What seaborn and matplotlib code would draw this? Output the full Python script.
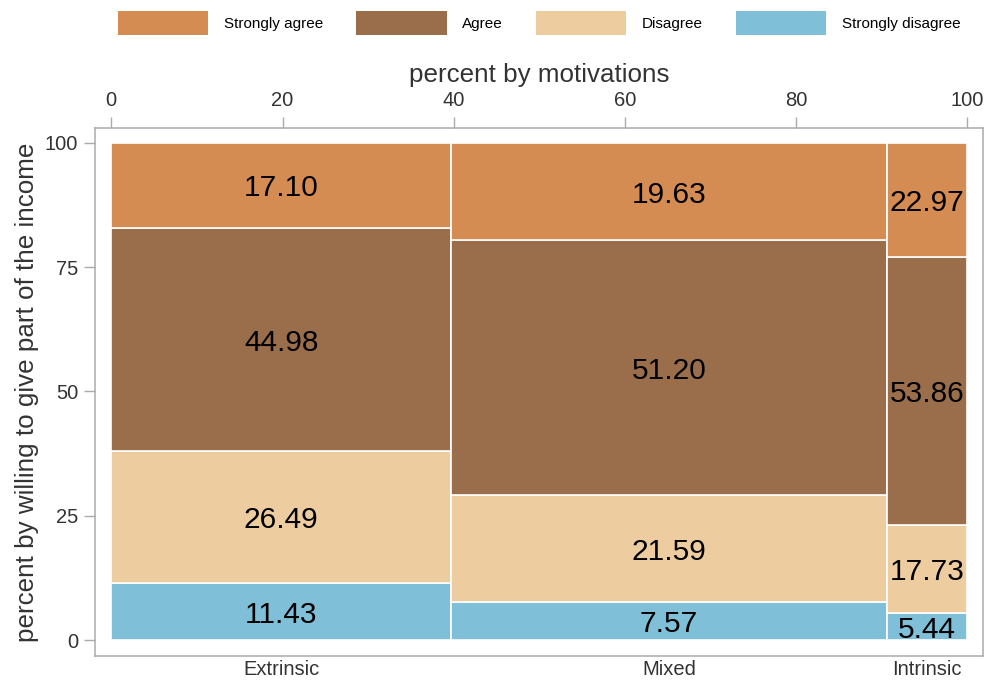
import numpy as np
import pandas as pd
import matplotlib
matplotlib.use("Agg")
import matplotlib.pyplot as plt
import seaborn as sns
from matplotlib.patches import Patch

categories = ["Extrinsic", "Mixed", "Intrinsic"]
col_widths = [39.68, 50.96, 9.36]  # percent by motivations
levels = ["Strongly disagree", "Disagree", "Agree", "Strongly agree"]  # stacked bottom -> top
strongly_disagree = [11.43, 7.57, 5.44]
disagree = [26.49, 21.59, 17.73]
agree = [44.98, 51.20, 53.86]
strongly_agree = [17.10, 19.63, 22.97]
legend_order = ["Strongly agree", "Agree", "Disagree", "Strongly disagree"]
top_ticks = [0, 20, 40, 60, 80, 100]
y_ticks = [0, 25, 50, 75, 100]

colors = {
    "Strongly agree": "#D58C52",
    "Agree": "#9A6E4A",
    "Disagree": "#EDCDA0",
    "Strongly disagree": "#7FBFD8",
}

shares = pd.DataFrame(
    {"Strongly disagree": strongly_disagree, "Disagree": disagree,
     "Agree": agree, "Strongly agree": strongly_agree},
    index=categories,
)
lefts = np.concatenate([[0], np.cumsum(col_widths)[:-1]])
mids = lefts + np.array(col_widths) / 2

sns.set_theme(style="white")
plt.rcParams["font.family"] = ["Liberation Sans", "DejaVu Sans"]
text_col = "#333333"
frame_col = "#ABABAB"

fig = plt.figure(figsize=(9.9, 6.83), dpi=100)
ax = fig.add_axes([0.0960, 0.0395, 0.8973, 0.7735])

bottoms = np.zeros(len(categories))
for lev in levels:
    vals = shares[lev].values
    ax.bar(lefts, vals, width=col_widths, bottom=bottoms, align="edge",
           color=colors[lev], edgecolor="white", linewidth=1.2)
    for x, b, v in zip(mids, bottoms, vals):
        ax.text(x, b + v / 2, f"{v:.2f}", ha="center", va="center_baseline",
                fontsize=21.5, color="black")
    bottoms += vals

ax.set_xlim(-1.90, 101.87)
ax.set_ylim(-3.2, 103.0)

# frame
for s in ax.spines.values():
    s.set_visible(True)
    s.set_color(frame_col)
    s.set_linewidth(1.1)

# bottom: category labels
ax.set_xticks(mids, labels=categories)
ax.tick_params(axis="x", bottom=True, length=0, pad=3, labelsize=14.5, labelcolor=text_col)

# left: y ticks
ax.set_yticks(y_ticks)
ax.tick_params(axis="y", left=True, length=8, width=1, color=frame_col, pad=4,
               labelsize=14.5, labelcolor=text_col)
ax.set_ylabel("percent by willing to give part of the income", fontsize=18.7,
              color=text_col, labelpad=4)

# top: percent by motivations
top = ax.secondary_xaxis("top")
top.set_xticks(top_ticks)
top.tick_params(axis="x", length=8, width=1, color=frame_col, pad=5,
                labelsize=14.5, labelcolor=text_col)
top.spines["top"].set_visible(False)
top.set_xlabel("percent by motivations", fontsize=18.7, color=text_col, labelpad=6)

handles = [Patch(facecolor=colors[l], edgecolor="none", label=l) for l in legend_order]
fig.legend(handles=handles, loc="center", ncol=4, frameon=False,
           bbox_to_anchor=(0.5446, 0.966), fontsize=11,
           handlelength=5.9, handleheight=2.04, handletextpad=1.0,
           columnspacing=2.2, labelcolor="black")

fig.savefig("out.png", dpi=100)
